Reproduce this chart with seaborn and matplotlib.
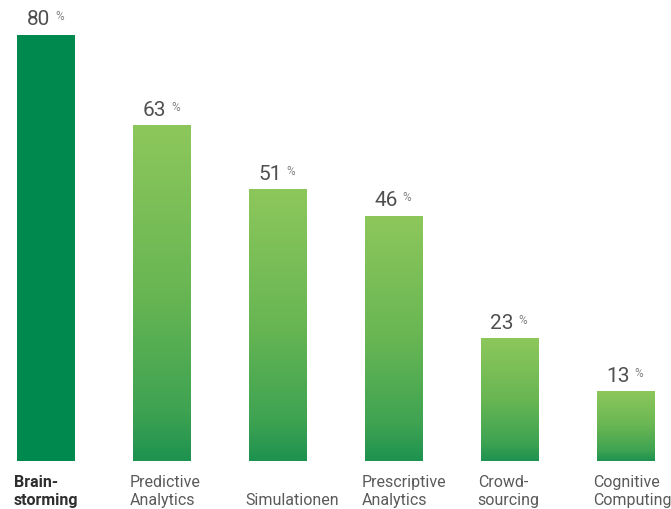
import numpy as np
import pandas as pd
import matplotlib
matplotlib.use("Agg")
import matplotlib.pyplot as plt
from matplotlib.colors import LinearSegmentedColormap
import seaborn as sns

# Survey results: share of respondents using each method (%)
categories = ["Brainstorming", "Predictive Analytics", "Simulationen",
              "Prescriptive Analytics", "Crowdsourcing", "Cognitive Computing"]
values = [80, 63, 51, 46, 23, 13]
label_lines = [["Brain-", "storming"], ["Predictive", "Analytics"], ["Simulationen"],
               ["Prescriptive", "Analytics"], ["Crowd-", "sourcing"], ["Cognitive", "Computing"]]
highlight = "Brainstorming"

sns.set_theme(style="white")
plt.rcParams["font.family"] = ["Roboto", "Liberation Sans", "DejaVu Sans"]

W, H = 671, 510
fig = plt.figure(figsize=(W / 100, H / 100), dpi=100)
base_px = 462          # bar baseline, pixels from the top
ax = fig.add_axes([0, (H - base_px) / H, 1, base_px / H])

df = pd.DataFrame({"cat": categories, "val": values})
solid = "#00894f"
palette = {c: solid for c in categories}
sns.barplot(data=df, x="cat", y="val", hue="cat", palette=palette,
            width=0.5, legend=False, ax=ax, saturation=1, linewidth=0)

step = 115.9
x0 = 46.0
xlim = (-x0 / step, (W - x0) / step)
ylim = (0, base_px / 5.32)

# vertical green gradient for all bars except the highlighted one
cmap = LinearSegmentedColormap.from_list(
    "grn", [(0.0, "#8dc75b"), (0.5, "#68b653"), (0.85, "#3ea352"), (1.0, "#1e9250")])
grad = np.linspace(0, 1, 256).reshape(-1, 1)
for patch, cat in zip(ax.patches, categories):
    if cat == highlight:
        continue
    x, y = patch.get_x(), patch.get_y()
    w, h = patch.get_width(), patch.get_height()
    patch.set_facecolor("none")
    ax.imshow(grad, cmap=cmap, aspect="auto", extent=(x, x + w, y, y + h),
              origin="upper", zorder=2, interpolation="bilinear")

ax.set_xlim(*xlim)
ax.set_ylim(*ylim)
ax.axis("off")

# value labels with small raised percent sign
for patch, v in zip(ax.patches, values):
    cx = patch.get_x() + patch.get_width() / 2
    top = patch.get_height()
    ax.annotate(f"{v}", (cx, top), xytext=(4, 11), textcoords="offset pixels",
                ha="right", va="baseline", fontsize=15, color="#505050",
                fontweight="normal", annotation_clip=False)
    ax.annotate("%", (cx, top), xytext=(9, 26), textcoords="offset pixels",
                ha="left", va="top", fontsize=8.5, color="#808080",
                fontweight="normal", annotation_clip=False)

# category labels under the bars, left aligned to each bar
for patch, cat, lines in zip(ax.patches, categories, label_lines):
    left = patch.get_x()
    bold = cat == highlight
    n = len(lines)
    for i, line in enumerate(lines):
        from_bottom = n - 1 - i
        ax.annotate(line, (left, 0), xytext=(-3, -43 + 18 * from_bottom),
                    textcoords="offset pixels", ha="left", va="baseline",
                    fontsize=11.5, color="#2e2e2e" if bold else "#5a5a5a",
                    fontweight="bold" if bold else "normal",
                    annotation_clip=False)

fig.savefig("out.png", dpi=100)
